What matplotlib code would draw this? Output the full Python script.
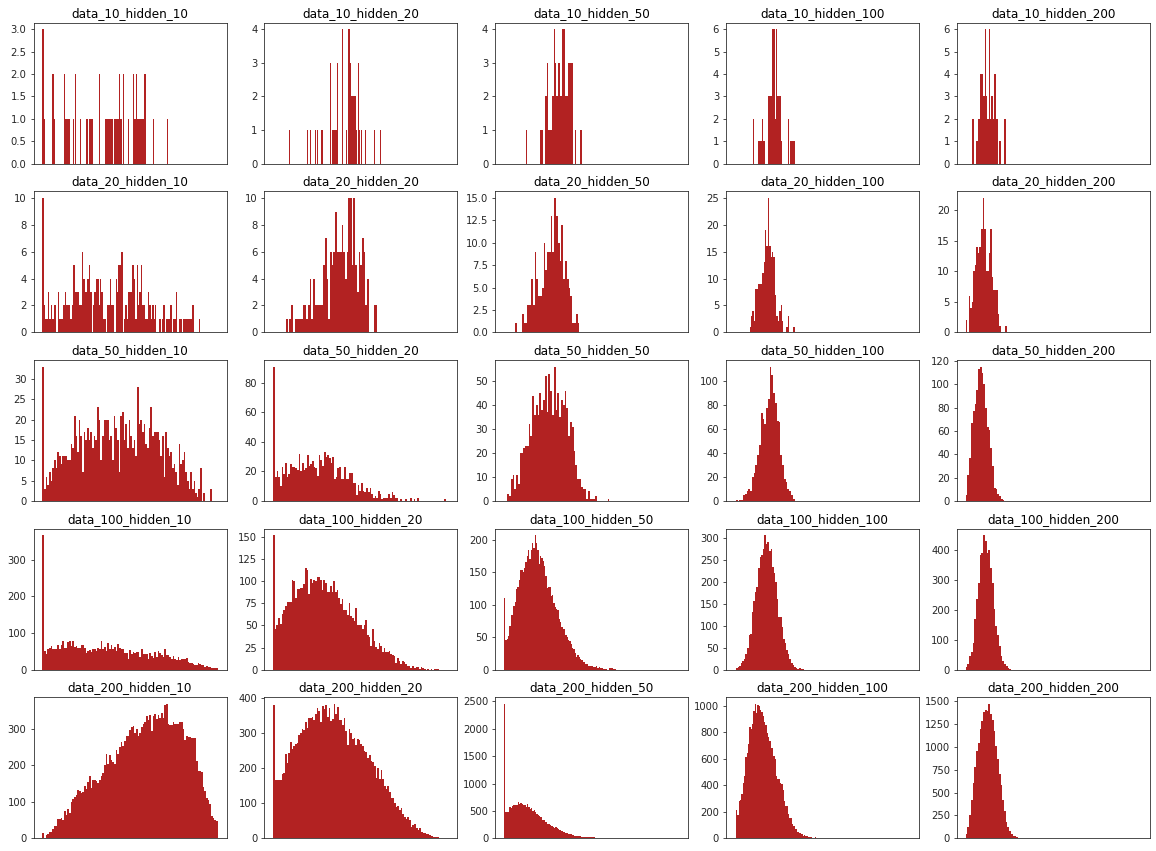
import numpy as np
import matplotlib
matplotlib.use("Agg")
import matplotlib.pyplot as plt

# sizes used for the grid (rows = data size, cols = hidden size)
data_sizes = [10, 20, 50, 100, 200]
hidden_sizes = [10, 20, 50, 100, 200]

# histogram counts
d10_h10 = [3,1,0,0,0,0,0,0,2,1, 0,0,0,0,0,0,0,2,1,1, 1,1,0,0,1,0,2,0,0,0,
           1,0,0,0,0,1,0,1,1,1, 0,0,0,0,0,2,0,0,0,0, 1,1,1,1,1,1,0,1,1,1,
           1,2,1,0,2,0,0,0,1,0, 0,0,2,1,2,1,1,1,1,1, 1,2,0,0,0,0,0,0,1,0,
           0,0,0,0,0,0,0,0,0,1]
d10_h20 = [1,0,0,0,0,0,0,0,0,0, 0,0,0,0,0,0,0,0,0,0, 1,0,0,1,0,0,0,0,1,0,
           0,1,0,0,0,1,1,0,0,0, 0,0,0,0,0,3,0,1,1,1, 1,1,3,0,0,0,0,0,4,0,
           0,0,1,0,4,4,4,3,2,2, 2,2,2,1,0,3,1,0,0,1, 0,0,0,1,0,0,0,0,0,0,
           0,0,0,1,0,0,0,0,0,1]
d10_h50 = [1,0,0,0,0,0,0,0,0,0, 0,0,0,1,1,0,0,2,2,3, 1,1,1,2,2,4,3,2,2,3,
           2,2,4,4,4,2,2,2,3,3, 3,3,0,0,1,0,0,0,1,1]
d10_h100 = [2,0,0,0,0,1,1,1,1,2, 1,1,0,0,0,3,3,3,6,6, 6,2,6,3,3,3,3,1,0,0,
            0,0,0,0,2,0,1,1,1,1]
d10_h200 = [2,2,0,0,1,1,2,2,4,4, 4,3,3,6,3,2,2,6,2,3, 3,2,4,4,2,2,0,1,1,0,
            0,0,2,2]

d20_h10 = [10,2,1,1,3,1,2,1,2,2, 0,3,1,1,1,2,3,2,2,2, 1,2,5,3,3,3,2,2,6,4,
           3,3,4,5,3,0,2,3,4,4, 2,4,3,1,1,0,2,2,4,2, 2,0,4,3,5,5,6,0,1,2,
           1,3,3,3,5,4,1,5,2,3, 5,2,2,1,1,3,2,1,2,1, 2,0,0,1,0,1,2,0,1,1,
           1,2,0,1,1,3,0,1,1,0, 1,1,1,1,1,1,2,2,0,0, 0,1]
d20_h20 = [1,0,1,2,0,1,1,1,1,1, 2,2,1,2,4,1,4,2,2,2, 2,2,5,7,4,1,6,5,6,9,
           6,6,6,8,6,4,6,10,10,5, 10,5,3,6,5,7,6,2,4,0, 0,0,2,2]
d20_h50 = [1,0,0,0,2,1,1,3,3,6, 3,9,6,4,4,5,10,7,9,9, 13,9,15,13,10,8,12,6,8,6,
           5,4,1,1,2,1]
d20_h100 = [1,3,4,2,8,8,9,9,9,11, 13,19,16,25,16,14,15,14,7,3, 2,4,5,2,0,0,1,3,0,0,
            0,1]
d20_h200 = [2,0,6,4,5,10,11,14,13,14, 17,22,17,10,10,13,17,9,7,7, 7,3,1,0,0,0,1]

d50_h10 = [33,3,6,4,7,5,8,10,8,12, 11,9,11,11,11,10,10,14,13,21, 16,12,20,16,7,17,15,18,15,17,
           13,16,15,23,20,10,16,20,20,20, 15,16,10,21,18,15,7,21,22,15, 19,13,20,16,13,15,11,28,19,20,
           17,19,14,13,18,23,16,17,17,17, 15,11,16,6,17,13,11,12,8,9, 7,4,14,9,10,12,7,5,3,7,
           3,5,2,1,3,8,0,2,0,0, 0,3]
d50_h20 = [91,16,20,16,10,23,18,26,16,18, 25,23,23,22,21,32,20,26,21,22, 31,24,25,27,23,22,17,31,28,24,
           33,30,31,29,26,30,15,16,22,23, 15,15,23,15,15,19,19,12,12,4, 11,7,12,7,6,9,6,9,5,2,
           3,2,7,5,1,2,2,2,5,2, 6,4,2,2,0,1,0,0,1,0, 0,2,0,1,0,2,0,0,0,0,
           0,0,0,0,0,0,0,0,0,0, 0,1]
d50_h50 = [3,2,9,11,5,11,7,20,20,22, 23,23,32,27,44,36,40,36,45,38, 42,52,37,53,46,36,56,38,45,35,
           42,40,46,39,27,33,31,21,15,9, 9,6,5,5,1,4,1,1,1,2, 0,0,0,0,0,0,1]
d50_h100 = [1,0,1,1,5,6,8,10,8,20, 23,30,38,47,73,68,64,78,85,112, 105,90,82,67,66,38,30,18,16,10,
            8,5,2]
d50_h200 = [5,22,37,67,77,83,95,113,115,110, 100,80,63,61,45,30,11,10,6,4, 2,1]

d100_h10 = [366,50,42,55,58,64,55,55,55,68, 55,68,78,60,58,76,78,65,78,62, 65,60,60,68,68,59,45,50,53,48,
            55,55,52,58,55,78,55,62,52,72, 57,68,55,62,50,70,60,56,55,45, 44,30,53,42,48,44,48,48,34,55,
            42,42,42,30,45,38,32,47,35,50, 44,40,35,55,39,40,35,28,38,30, 26,35,26,30,30,30,32,20,18,18,
            14,13,13,18,15,12,12,8,10,8, 6,5,5,5,5]
d100_h20 = [152,46,50,59,52,63,67,72,77,77, 77,101,100,81,91,91,92,92,97,115, 113,86,103,98,101,100,105,105,102,90,
            101,98,88,88,95,88,100,88,90,81, 74,80,68,68,62,75,61,58,55,70, 51,50,50,46,50,56,39,37,27,46,
            32,26,23,30,27,20,24,20,20,21, 18,17,15,8,13,10,6,10,9,6, 4,4,2,4,2,3,3,1,3,2,
            1,0,1,0,1,0,1,1,1]
d100_h50 = [110,46,48,52,67,85,84,98,104,124, 128,138,153,154,150,157,166,175,184,170, 185,195,187,207,196,185,163,176,172,168,
            160,145,126,127,127,113,115,103,97,93, 92,78,73,66,63,63,54,50,46,44, 40,34,32,26,20,22,20,17,15,11,
            12,9,8,6,6,6,5,4,4,5, 2,4,2,3,1,1,1,0,0,2, 2,2,1,1]
d100_h100 = [3,5,8,15,20,25,35,50,78,80, 130,155,177,188,230,255,260,275,305,285, 290,270,275,234,220,200,160,120,120,96,
             70,60,45,35,25,14,10,6,3,2, 3,1,1]
d100_h200 = [10,20,45,60,90,170,237,290,385,390, 450,430,390,400,340,290,205,145,115,80, 45,30,20,12,5,2]

d200_h10 = [15,2,10,13,16,18,25,35,33,52, 52,57,49,75,65,80,70,100,108,113, 120,133,130,125,128,144,135,155,170,138,
            160,160,158,153,160,170,178,200,230,205, 228,215,210,205,243,232,250,265,253,268, 280,280,297,305,308,290,300,282,290,305,
            315,320,335,325,338,295,335,340,328,338, 330,345,330,365,368,315,310,310,318,315, 313,315,318,320,300,270,282,278,278,276,
            276,275,213,185,184,183,140,130,110,105, 95,62,57,50,48]
d200_h20 = [380,165,165,167,167,183,185,240,215,242, 273,255,263,270,272,295,300,310,308,332, 315,342,342,345,338,355,372,362,330,378,
            368,380,345,372,335,340,382,355,375,338, 336,323,342,305,267,312,300,282,285,265, 283,280,268,263,250,245,228,236,220,218,
            205,172,200,168,195,170,150,140,148,133, 115,115,100,90,92,80,87,68,62,55, 60,52,33,37,42,30,24,28,18,15,
            14,12,12,8,7,5,3,3,3,2, 2,2,2,1]
d200_h50 = [2450,480,480,480,570,560,590,600,615,610, 660,630,645,625,600,610,580,630,570,535, 550,505,515,480,440,420,405,380,340,330,
            300,290,270,255,240,225,200,195,200,180, 170,150,140,130,115,100,90,85,75,70, 60,55,50,45,40,38,35,32,30,28,
            25,22,22,20,20,18,16,14,12,10, 9,8,8,7,6,5,5,4,4,3, 3,2,2]
d200_h100 = [210,175,280,290,330,420,470,610,640,710, 840,820,860,960,1010,940,1005,995,970,950, 920,875,855,790,760,730,680,680,620,600,
             470,450,450,420,410,360,280,240,240,180, 150,150,110,90,70,70,50,40,40,30, 20,25,20,15,10,12,10,5,5,8,
             3]
d200_h200 = [50,120,250,420,610,780,960,1050,1200,1290, 1380,1410,1400,1470,1360,1300,1180,1010,870,700, 580,420,300,180,120,80,50,30,20,10,
             8,5,3]

# min / max of each histogram's values (x range of the bins)
x_min = [[0.0, 0.091, 0.125, 0.102, 0.034],
         [0.0, 0.074, 0.062, 0.084, 0.0],
         [0.0, 0.0, 0.018, 0.006, 0.0],
         [0.0, 0.0, 0.0, 0.006, 0.0],
         [0.0, 0.0, 0.0, 0.006, 0.0]]
x_max = [[0.718, 0.612, 0.444, 0.340, 0.230],
         [0.899, 0.592, 0.429, 0.340, 0.235],
         [0.966, 0.983, 0.601, 0.340, 0.220],
         [1.0, 0.945, 0.639, 0.392, 0.258],
         [1.0, 0.995, 0.639, 0.470, 0.327]]

counts = [[d10_h10, d10_h20, d10_h50, d10_h100, d10_h200],
          [d20_h10, d20_h20, d20_h50, d20_h100, d20_h200],
          [d50_h10, d50_h20, d50_h50, d50_h100, d50_h200],
          [d100_h10, d100_h20, d100_h50, d100_h100, d100_h200],
          [d200_h10, d200_h20, d200_h50, d200_h100, d200_h200]]

fig, axes = plt.subplots(5, 5, figsize=(1156 / 72, 851 / 72), dpi=72)
fig.subplots_adjust(left=33.5 / 1156, right=1150 / 1156, top=1 - 22.7 / 851,
                    bottom=1 - 838.3 / 851, wspace=0.196, hspace=0.198)

for i, d in enumerate(data_sizes):
    for j, h in enumerate(hidden_sizes):
        ax = axes[i, j]
        c = np.array(counts[i][j], dtype=float)
        edges = np.linspace(x_min[i][j], x_max[i][j], len(c) + 1)
        ax.hist(edges[:-1], bins=edges, weights=c, color="firebrick")
        ax.set_xlim(-0.05, 1.05)
        ax.set_xticks([])
        ax.set_title("data_%d_hidden_%d" % (d, h), fontsize=12)
        ax.tick_params(axis="y", labelsize=10, colors=".15")
        for s in ax.spines.values():
            s.set_color(".15")

fig.savefig("out.png", dpi=72)
